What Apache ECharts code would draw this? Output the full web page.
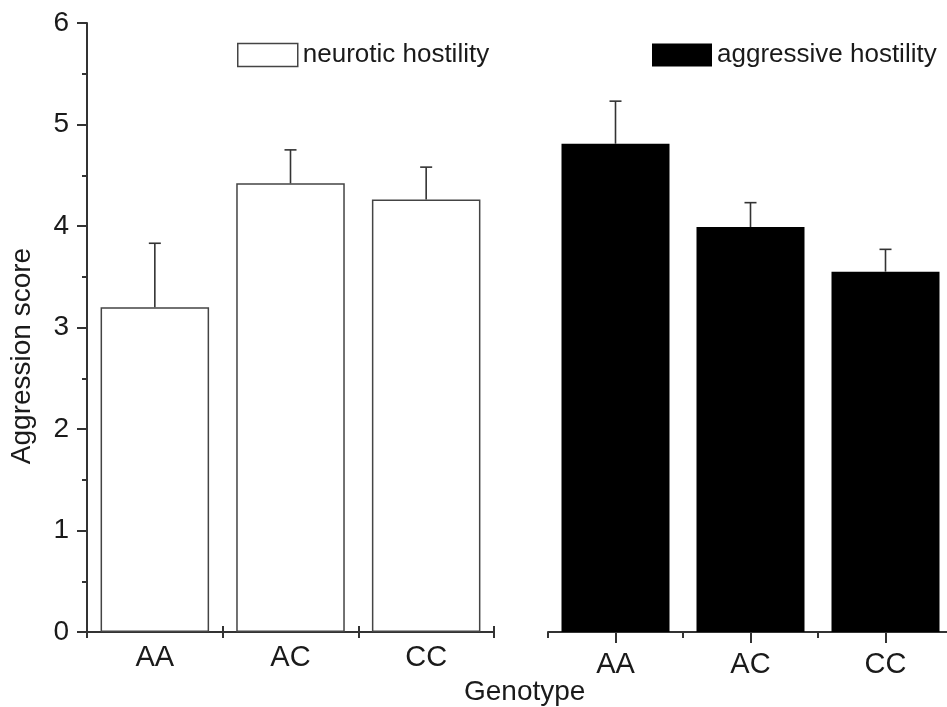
<!DOCTYPE html>
<html>
<head>
<meta charset="utf-8">
<script src="https://cdn.jsdelivr.net/npm/echarts@6/dist/echarts.min.js"></script>
<style>
  html, body { margin: 0; padding: 0; background: #fff; }
  #chart { width: 947px; height: 707px; }
</style>
</head>
<body>
<div id="chart"></div>
<script>
var genotypes = ['AA', 'AC', 'CC'];
var neuroticMean = [3.20, 4.42, 4.26];
var neuroticErr = [0.63, 0.33, 0.32];
var aggressiveMean = [4.81, 3.99, 3.55];
var aggressiveErr = [0.42, 0.24, 0.22];
var yMin = 0, yMax = 6, yStep = 1;

var FONT = '"Liberation Sans", Arial, sans-serif';
var INK = '#1a1a1a';
var LINE = '#333';

var chartDom = document.getElementById('chart');
var myChart = echarts.init(chartDom);

function errData(mean, err) {
  return mean.map(function (m, i) { return [i, m, m + err[i]]; });
}

function renderErr(params, api) {
  var i = api.value(0);
  var lo = api.coord([i, api.value(1)]);
  var hi = api.coord([i, api.value(2)]);
  var style = { stroke: LINE, lineWidth: 1.6 };
  return {
    type: 'group',
    children: [
      { type: 'line', shape: { x1: lo[0], y1: lo[1], x2: hi[0], y2: hi[1] }, style: style },
      { type: 'line', shape: { x1: hi[0] - 6, y1: hi[1], x2: hi[0] + 6, y2: hi[1] }, style: style }
    ]
  };
}

var option = {
  animation: false,
  backgroundColor: '#fff',
  textStyle: { fontFamily: FONT, color: INK },
  grid: [
    { left: 87, top: 23, width: 407, bottom: 75, containLabel: false, outerBoundsMode: 'none' },
    { left: 548, top: 23, width: 405, bottom: 75, containLabel: false, outerBoundsMode: 'none' }
  ],
  legend: [
    {
      left: 237, top: 42, padding: 0, itemWidth: 60, itemHeight: 23, itemGap: 7,
      icon: 'rect',
      textStyle: { fontSize: 26, fontFamily: FONT, color: INK, lineHeight: 23 },
      data: [{ name: 'neurotic hostility', itemStyle: { color: '#fff', borderColor: '#444', borderWidth: 1.5 } }]
    },
    {
      left: 652, top: 42, padding: 0, itemWidth: 60, itemHeight: 23,
      icon: 'rect',
      textStyle: { fontSize: 26, fontFamily: FONT, color: INK, lineHeight: 23 },
      data: [{ name: 'aggressive hostility', itemStyle: { color: '#000' } }]
    }
  ],
  xAxis: [
    {
      type: 'category', gridIndex: 0, data: genotypes,
      axisLine: { lineStyle: { color: LINE, width: 2 } },
      axisTick: { show: true, length: 6, lineStyle: { color: LINE, width: 2 } },
      axisLabel: { fontSize: 29, color: INK, margin: 11, fontFamily: FONT }
    },
    {
      type: 'category', gridIndex: 0, data: genotypes, position: 'bottom',
      axisLine: { show: false },
      axisTick: { show: true, inside: true, length: 6, lineStyle: { color: LINE, width: 2 } },
      axisLabel: { show: false }
    },
    {
      type: 'category', gridIndex: 1, data: genotypes,
      axisLine: { lineStyle: { color: LINE, width: 2 } },
      axisTick: { show: true, alignWithLabel: true, length: 11, lineStyle: { color: LINE, width: 2 } },
      axisLabel: { fontSize: 29, color: INK, margin: 18, fontFamily: FONT }
    },
    {
      type: 'category', gridIndex: 1, data: genotypes, position: 'bottom',
      axisLine: { show: false },
      axisTick: { show: true, length: 6, lineStyle: { color: LINE, width: 2 } },
      axisLabel: { show: false }
    }
  ],
  yAxis: [
    {
      type: 'value', gridIndex: 0, min: yMin, max: yMax, interval: yStep,
      axisLine: { show: true, lineStyle: { color: LINE, width: 2 } },
      axisTick: { show: true, length: 10, lineStyle: { color: LINE, width: 2 } },
      minorTick: { show: true, splitNumber: 2, length: 5, lineStyle: { color: LINE, width: 2 } },
      splitLine: { show: false },
      axisLabel: { fontSize: 28, color: INK, margin: 18, fontFamily: FONT }
    },
    {
      type: 'value', gridIndex: 1, min: yMin, max: yMax, interval: yStep, show: false
    }
  ],
  graphic: [
    {
      type: 'text', x: 22, y: 356, rotation: Math.PI / 2,
      style: { text: 'Aggression score', font: '28px ' + FONT, fill: INK, align: 'center', verticalAlign: 'middle' }
    },
    {
      type: 'text', left: 464, top: 678,
      style: { text: 'Genotype', font: '28px ' + FONT, fill: INK }
    }
  ],
  series: [
    {
      name: 'neurotic hostility', type: 'bar', xAxisIndex: 0, yAxisIndex: 0,
      data: neuroticMean, barWidth: '80%',
      itemStyle: { color: '#fff', borderColor: '#444', borderWidth: 1.5 }
    },
    {
      type: 'custom', xAxisIndex: 0, yAxisIndex: 0, z: 5,
      data: errData(neuroticMean, neuroticErr), renderItem: renderErr
    },
    {
      name: 'aggressive hostility', type: 'bar', xAxisIndex: 2, yAxisIndex: 1,
      data: aggressiveMean, barWidth: '80%',
      itemStyle: { color: '#000' }
    },
    {
      type: 'custom', xAxisIndex: 2, yAxisIndex: 1, z: 5,
      data: errData(aggressiveMean, aggressiveErr), renderItem: renderErr
    }
  ]
};

myChart.setOption(option);
</script>
</body>
</html>
